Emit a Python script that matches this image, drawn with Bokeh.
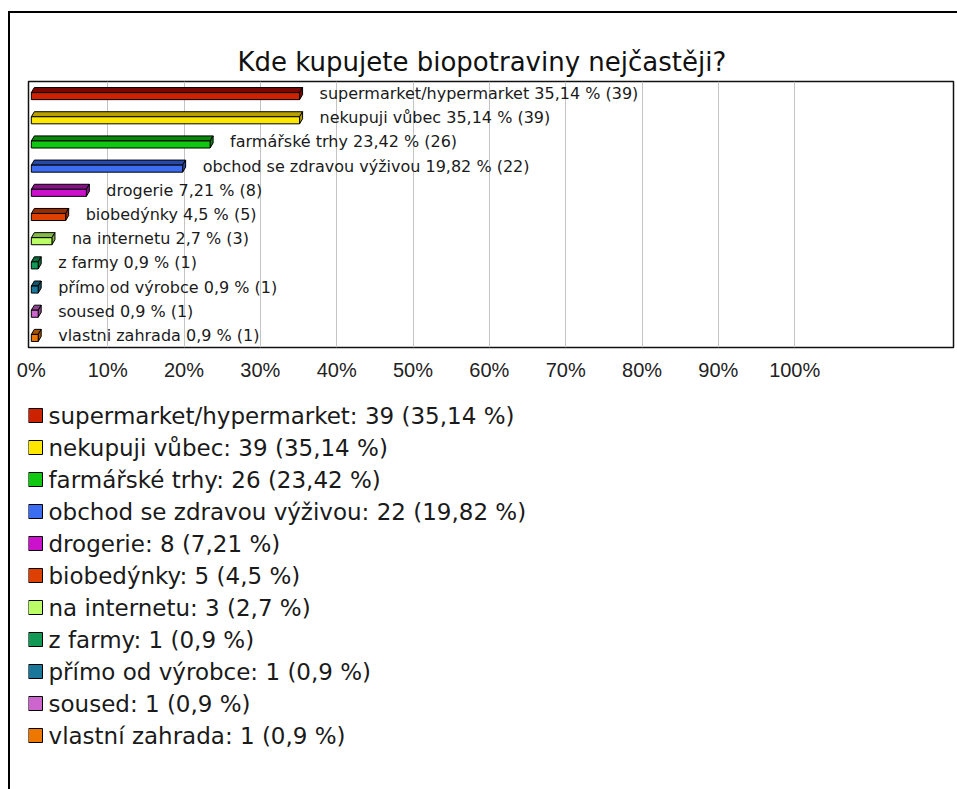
from bokeh.plotting import figure
from bokeh.layouts import column
from bokeh.models import Range1d, FixedTicker, PrintfTickFormatter, ColumnDataSource
from bokeh.core.properties import value
from bokeh.embed import file_html
from bokeh.resources import INLINE

title_text = "Kde kupujete biopotraviny nejčastěji?"
categories = ["supermarket/hypermarket", "nekupuji vůbec", "farmářské trhy",
              "obchod se zdravou výživou", "drogerie", "biobedýnky", "na internetu",
              "z farmy", "přímo od výrobce", "soused", "vlastní zahrada"]
bar_names = ["supermarket/hypermarket", "nekupuji vůbec", "farmářské trhy",
             "obchod se zdravou výživou", "drogerie", "biobedýnky", "na internetu",
             "z farmy", "přímo od výrobce", "soused", "vlastni zahrada"]
counts = [39, 39, 26, 22, 8, 5, 3, 1, 1, 1, 1]
percents = [35.14, 35.14, 23.42, 19.82, 7.21, 4.5, 2.7, 0.9, 0.9, 0.9, 0.9]
front_colors = ["#cc2200", "#ffe800", "#11c811", "#3c6cf0", "#cc11cc", "#dd4000",
                "#bbff66", "#119955", "#1a7799", "#cc66cc", "#ee7700"]
top_colors = ["#7a0800", "#b8a000", "#0a860a", "#2848a8", "#861186", "#962c00",
              "#86b848", "#0b6b3b", "#125469", "#8e478e", "#a65300"]
tick_values = [0, 10, 20, 30, 40, 50, 60, 70, 80, 90, 100]
grid_values = [10, 20, 30, 40, 50, 60, 70, 80, 90, 100]

FONT = "DejaVu Sans"
n = len(categories)
pct_txt = [f"{v:g}".replace(".", ",") for v in percents]
bar_labels = [f"{nm} {pt} % ({c})" for nm, pt, c in zip(bar_names, pct_txt, counts)]
legend_labels = [f"{nm}: {c} ({pt} %)" for nm, c, pt in zip(categories, counts, pct_txt)]

# pixel geometry of the 3D effect converted to data units
px_x = 7.62   # pixels per percent
px_y = 24.0   # pixels per row
dx = 3 / px_x
dy = 5 / px_y
rows = [-i for i in range(n)]
front_top = [r + 1 / px_y for r in rows]
front_bot = [r - 6 / px_y for r in rows]

# ---------------- bar chart ----------------
p = figure(frame_width=923, frame_height=264,
           x_range=Range1d(-0.37, 120.8), y_range=Range1d(-10.5, 0.5),
           output_backend="svg", toolbar_location=None, y_axis_location=None,
           min_border_left=18, min_border_right=6, min_border_top=68, min_border_bottom=40)
p.margin = (11, 0, 0, 8)
p.styles = {"border-top": "2px solid #000000", "border-left": "2px solid #000000"}
p.background_fill_color = "white"
p.border_fill_color = "white"
p.outline_line_color = "#111111"
p.outline_line_width = 1.5

p.title.text = title_text
p.title.align = "left"
p.title.offset = 209
p.title.text_font = FONT
p.title.text_font_size = "26px"
p.title.text_font_style = "normal"
p.title.text_color = "#111111"

p.xgrid.ticker = FixedTicker(ticks=grid_values)
p.xgrid.grid_line_color = "#c4c4c4"
p.ygrid.grid_line_color = None

ax = p.xaxis[0]
ax.ticker = FixedTicker(ticks=tick_values)
ax.formatter = PrintfTickFormatter(format="%d%%")
ax.axis_line_color = None
ax.major_tick_line_color = None
ax.minor_tick_line_color = None
ax.major_label_text_font = "Liberation Sans"
ax.major_label_text_font_size = "20px"
ax.major_label_text_color = "#222222"
ax.major_label_standoff = 5

top_xs = [[0, v, v + dx, dx] for v in percents]
top_ys = [[t, t, t + dy, t + dy] for t in front_top]
side_xs = [[v, v + dx, v + dx, v] for v in percents]
side_ys = [[t, t + dy, b + dy, b] for t, b in zip(front_top, front_bot)]
p.patches(xs=top_xs, ys=top_ys, fill_color=top_colors, line_color="black", line_width=1)
p.patches(xs=side_xs, ys=side_ys, fill_color=top_colors, line_color="black", line_width=1)

src = ColumnDataSource(dict(y=[(t + b) / 2 for t, b in zip(front_top, front_bot)],
                            right=percents, color=front_colors))
p.hbar(y="y", left=0, right="right", height=7 / px_y, fill_color="color",
       line_color="black", line_width=1, source=src)

lab_src = ColumnDataSource(dict(x=percents, y=rows, text=bar_labels))
p.text(x="x", y="y", text="text", source=lab_src, x_offset=20, text_baseline="middle",
       text_align="left", text_font=value(FONT), text_font_size="16px", text_color="#1a1a1a")

# ---------------- legend (below the chart) ----------------
row_px = 32.0
leg_h = 404
first_row_px = 30
q = figure(frame_width=923, height=leg_h, x_range=Range1d(0, 923),
           y_range=Range1d(first_row_px / row_px - leg_h / row_px, first_row_px / row_px),
           output_backend="svg", toolbar_location=None,
           x_axis_location=None, y_axis_location=None,
           min_border_left=18, min_border_right=6, min_border_top=0, min_border_bottom=0)
q.margin = (0, 0, 0, 8)
q.styles = {"border-left": "2px solid #000000"}
q.outline_line_color = None
q.background_fill_color = "white"
q.border_fill_color = "white"
q.grid.visible = False

leg_src = ColumnDataSource(dict(y=rows, color=front_colors, text=legend_labels))
q.rect(x=7, y="y", width=14, height=14, width_units="screen", height_units="screen",
       fill_color="color", line_color="black", line_width=1, source=leg_src)
q.text(x=7, y="y", text="text", x_offset=13, text_baseline="middle", text_align="left",
       text_font=value(FONT), text_font_size="23px", text_color="#1a1a1a", source=leg_src)

layout = column(p, q, spacing=0)
open("out.html", "w").write(file_html(layout, INLINE))
